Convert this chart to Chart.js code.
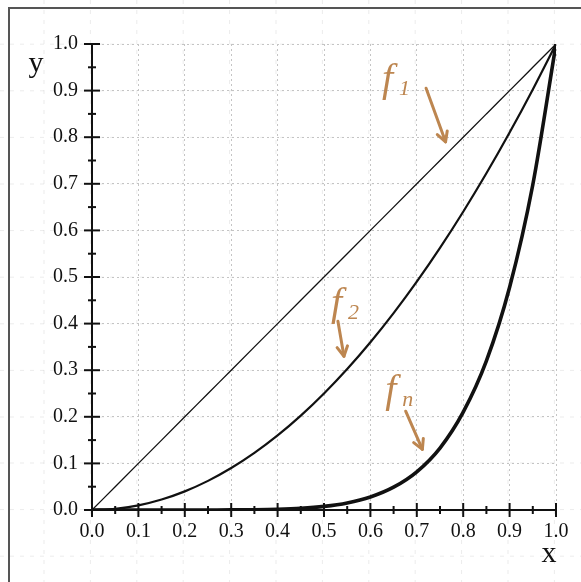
<!DOCTYPE html>
<html>
<head>
<meta charset="utf-8">
<script src="https://cdn.jsdelivr.net/npm/chart.js@4/dist/chart.umd.min.js"></script>
<style>
  html, body { margin: 0; padding: 0; background: #fff; }
  #wrap { width: 581px; height: 582px; }
</style>
</head>
<body>
<div id="wrap"><canvas id="c" width="581" height="582"></canvas></div>
<script>
// values
const xs = [0, 0.05, 0.1, 0.15, 0.2, 0.25, 0.3, 0.35, 0.4, 0.45, 0.5, 0.55, 0.6, 0.65, 0.7, 0.75, 0.8, 0.85, 0.9, 0.95, 1.0];
const f1 = [0, 0.05, 0.1, 0.15, 0.2, 0.25, 0.3, 0.35, 0.4, 0.45, 0.5, 0.55, 0.6, 0.65, 0.7, 0.75, 0.8, 0.85, 0.9, 0.95, 1.0];
const f2 = [0, 0.0025, 0.01, 0.0225, 0.04, 0.0625, 0.09, 0.1225, 0.16, 0.2025, 0.25, 0.3025, 0.36, 0.4225, 0.49, 0.5625, 0.64, 0.7225, 0.81, 0.9025, 1.0];
const fn = [0, 0, 0, 0, 0, 0.0001, 0.0002, 0.0006, 0.0016, 0.0037, 0.0078, 0.0152, 0.028, 0.049, 0.082, 0.133, 0.21, 0.32, 0.478, 0.698, 1.0];
const majorTicks = [0, 0.1, 0.2, 0.3, 0.4, 0.5, 0.6, 0.7, 0.8, 0.9, 1.0];
const minorTicks = [0.05, 0.15, 0.25, 0.35, 0.45, 0.55, 0.65, 0.75, 0.85, 0.95];

// handwritten labels, in data coordinates
const notes = [
  { sub: '1', at: [0.655, 0.925], arrow: [[0.72, 0.905], [0.762, 0.79]] },
  { sub: '2', at: [0.545, 0.445], arrow: [[0.53, 0.405], [0.543, 0.33]] },
  { sub: 'n', at: [0.662, 0.258], arrow: [[0.676, 0.212], [0.712, 0.13]] }
];

const serif = '"Liberation Serif", "DejaVu Serif", serif';
const ink = '#bd8650';

const pts = ys => xs.map((x, i) => ({ x: x, y: ys[i] }));

const decor = {
  id: 'decor',
  beforeDraw(chart) {
    const ctx = chart.ctx;
    ctx.save();
    // faint paper grid behind everything
    ctx.strokeStyle = 'rgba(0,0,0,0.08)';
    ctx.lineWidth = 1;
    ctx.setLineDash([4, 6]);
    for (let gx = 44; gx < 581; gx += 46.4) {
      ctx.beginPath(); ctx.moveTo(gx, 0); ctx.lineTo(gx, 582); ctx.stroke();
    }
    for (let gy = 417; gy > 0; gy -= 46.6) {
      ctx.beginPath(); ctx.moveTo(0, gy); ctx.lineTo(581, gy); ctx.stroke();
    }
    for (let gy = 463; gy < 582; gy += 46.6) {
      ctx.beginPath(); ctx.moveTo(0, gy); ctx.lineTo(581, gy); ctx.stroke();
    }
    ctx.setLineDash([]);
    // page frame
    ctx.strokeStyle = '#555';
    ctx.lineWidth = 2;
    ctx.beginPath();
    ctx.moveTo(9, 582); ctx.lineTo(9, 8); ctx.lineTo(581, 8);
    ctx.stroke();
    ctx.restore();
  },
  afterDraw(chart) {
    const ctx = chart.ctx;
    const sx = chart.scales.x, sy = chart.scales.y;
    const x0 = sx.getPixelForValue(0), y0 = sy.getPixelForValue(0);
    ctx.save();
    ctx.strokeStyle = '#111';
    ctx.lineWidth = 2;
    // axis lines and crossing ticks
    ctx.beginPath();
    ctx.moveTo(x0, sy.getPixelForValue(1)); ctx.lineTo(x0, y0); ctx.lineTo(sx.getPixelForValue(1), y0);
    ctx.stroke();
    majorTicks.forEach(v => {
      const px = sx.getPixelForValue(v), py = sy.getPixelForValue(v);
      ctx.beginPath(); ctx.moveTo(px, y0 - 7); ctx.lineTo(px, y0 + 7); ctx.stroke();
      ctx.beginPath(); ctx.moveTo(x0 - 8, py); ctx.lineTo(x0 + 8, py); ctx.stroke();
    });
    minorTicks.forEach(v => {
      const px = sx.getPixelForValue(v), py = sy.getPixelForValue(v);
      ctx.beginPath(); ctx.moveTo(px, y0 - 4); ctx.lineTo(px, y0 + 4); ctx.stroke();
      ctx.beginPath(); ctx.moveTo(x0 - 4, py); ctx.lineTo(x0 + 4, py); ctx.stroke();
    });
    // axis names
    ctx.fillStyle = '#111';
    ctx.font = '30px ' + serif;
    ctx.textAlign = 'center';
    ctx.textBaseline = 'alphabetic';
    ctx.fillText('y', 36, 72);
    ctx.fillText('x', 549, 562);
    // handwritten notes
    ctx.fillStyle = ink;
    ctx.strokeStyle = ink;
    ctx.lineWidth = 3;
    ctx.lineCap = 'round';
    ctx.lineJoin = 'round';
    notes.forEach(n => {
      const tx = sx.getPixelForValue(n.at[0]), ty = sy.getPixelForValue(n.at[1]);
      ctx.font = 'italic 40px ' + serif;
      ctx.textAlign = 'left';
      ctx.fillText('f', tx - 14, ty + 12);
      ctx.font = 'italic 22px ' + serif;
      ctx.fillText(n.sub, tx + 3, ty + 16);
      const ax = sx.getPixelForValue(n.arrow[0][0]), ay = sy.getPixelForValue(n.arrow[0][1]);
      const bx = sx.getPixelForValue(n.arrow[1][0]), by = sy.getPixelForValue(n.arrow[1][1]);
      ctx.beginPath(); ctx.moveTo(ax, ay); ctx.lineTo(bx, by); ctx.stroke();
      const ang = Math.atan2(by - ay, bx - ax);
      ctx.beginPath();
      ctx.moveTo(bx - 11 * Math.cos(ang - 0.5), by - 11 * Math.sin(ang - 0.5));
      ctx.lineTo(bx, by);
      ctx.lineTo(bx - 11 * Math.cos(ang + 0.5), by - 11 * Math.sin(ang + 0.5));
      ctx.stroke();
    });
    ctx.restore();
  }
};

new Chart(document.getElementById('c'), {
  type: 'line',
  data: {
    datasets: [
      { label: 'f1', data: pts(f1), borderColor: '#111', borderWidth: 1.3 },
      { label: 'f2', data: pts(f2), borderColor: '#111', borderWidth: 2.2 },
      { label: 'fn', data: pts(fn), borderColor: '#111', borderWidth: 3.6 }
    ]
  },
  options: {
    responsive: false,
    animation: false,
    elements: { point: { radius: 0 }, line: { cubicInterpolationMode: 'monotone' } },
    layout: { padding: { top: 44, right: 25, left: 0, bottom: 0 } },
    plugins: { legend: { display: false }, tooltip: { enabled: false } },
    scales: {
      x: {
        type: 'linear', min: 0, max: 1,
        afterFit: s => { s.height = 72; },
        afterBuildTicks: s => { s.ticks = majorTicks.map(v => ({ value: v })); },
        ticks: { color: '#111', font: { family: serif, size: 20 }, padding: 10, callback: v => v.toFixed(1), maxRotation: 0 },
        grid: { color: '#c4c4c4', lineWidth: 1, drawTicks: false },
        border: { display: false, dash: [2, 3] }
      },
      y: {
        type: 'linear', min: 0, max: 1,
        afterFit: s => { s.width = 92; },
        afterBuildTicks: s => { s.ticks = majorTicks.map(v => ({ value: v })); },
        ticks: { color: '#111', font: { family: serif, size: 20 }, padding: 14, callback: v => v.toFixed(1) },
        grid: { color: '#c4c4c4', lineWidth: 1, drawTicks: false },
        border: { display: false, dash: [2, 3] }
      }
    }
  },
  plugins: [decor]
});
</script>
</body>
</html>
